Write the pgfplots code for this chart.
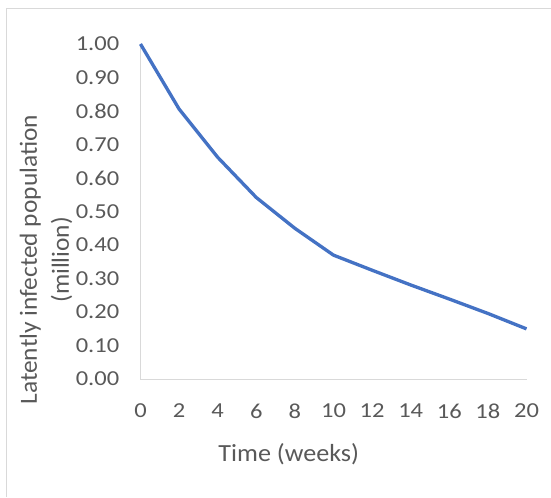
\documentclass[border=0pt]{standalone}
\usepackage{pgfplots}
\pgfplotsset{compat=1.18}
\usepackage{fontspec}
\setmainfont{Carlito}
\newfontfamily\tickfont{Carlito}[FakeStretch=1.15]
\newfontfamily\labfont{Carlito}[FakeStretch=1.06]
\newfontfamily\ylabfont{Carlito}[FakeStretch=1.03]
\definecolor{txt}{HTML}{595959}
\definecolor{ax}{HTML}{D9D9D9}
\definecolor{ln}{HTML}{4472C4}
\begin{document}
\begin{tikzpicture}
\path (0pt,0pt) rectangle (413.25pt,372.75pt);
\draw[ax, line width=0.75pt] (5.25pt,0pt) -- (5.25pt,366.4pt) -- (413.25pt,366.4pt);
\begin{axis}[
  at={(105.45pt,88.125pt)}, anchor=south west,
  scale only axis, width=289.8pt, height=251.6pt,
  xmin=0, xmax=20, ymin=0, ymax=1,
  axis x line*=bottom, axis y line*=left,
  axis line style={ax, line width=0.75pt, -},
  major tick length=0pt,
  xtick={0,2,4,6,8,10,12,14,16,18,20},
  ytick={0,0.1,0.2,0.3,0.4,0.5,0.6,0.7,0.8,0.9,1.0},
  /pgf/number format/assume math mode=true,
  yticklabel style={/pgf/number format/fixed, /pgf/number format/fixed zerofill, /pgf/number format/precision=2,
     anchor=east, inner sep=0pt, xshift=-15.75pt},
  xticklabel style={anchor=north, inner sep=0pt, yshift=-18.4pt},
  tick label style={font=\tickfont\fontsize{16}{16}\selectfont, text=txt},
  clip=false,
]
\addplot[ln, line width=2.5pt, line join=round] coordinates {
(0,1.000) (2,0.806) (4,0.662) (6,0.542) (8,0.450) (10,0.370)
(12,0.325) (14,0.281) (16,0.239) (18,0.196) (20,0.150)
};
\end{axis}
\node[anchor=base, text=txt, font=\labfont\fontsize{18.5}{18.5}\selectfont] at (216.75pt,26.25pt) {Time (weeks)};
\node[rotate=90, align=center, text=txt, font=\ylabfont\fontsize{18.5}{24}\selectfont] at (34.5pt,177.75pt) {Latently infected population\\(million)};
\end{tikzpicture}
\end{document}
